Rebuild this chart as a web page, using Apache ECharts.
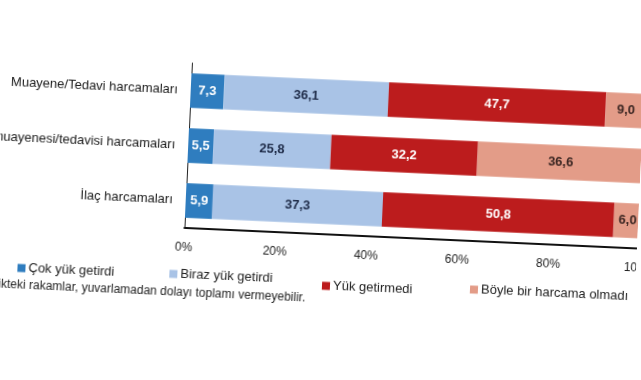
<!DOCTYPE html>
<html>
<head>
<meta charset="utf-8">
<script src="https://cdn.jsdelivr.net/npm/echarts@6/dist/echarts.min.js"></script>
<style>
html,body{margin:0;padding:0;background:#fff;overflow:hidden;}
#chart{width:641px;height:380px;transform:rotate(2.6deg);transform-origin:188px 150px;}
</style>
</head>
<body>
<div id="chart"></div>
<script>
const categories = ['İlaç harcamaları', 'Diş muayenesi/tedavisi harcamaları', 'Muayene/Tedavi harcamaları'];
const seriesNames = ['Çok yük getirdi', 'Biraz yük getirdi', 'Yük getirmedi', 'Böyle bir harcama olmadı'];
const cokYuk = [5.9, 5.5, 7.3];
const birazYuk = [37.3, 25.8, 36.1];
const yukGetirmedi = [50.8, 32.2, 47.7];
const boyleBir = [6.0, 36.6, 9.0];
const xTicks = ['0%', '20%', '40%', '60%', '80%', '100%'];
const footnote = 'Grafikteki rakamlar, yuvarlamadan dolayı toplamı vermeyebilir.';

const colors = ['#2f7dbf', '#a9c3e6', '#bc1c1d', '#e39c88'];
const labelColors = ['#ffffff', '#1e2b48', '#ffffff', '#3b2622'];
const font = '"Liberation Sans", Arial, sans-serif';
const values = [cokYuk, birazYuk, yukGetirmedi, boyleBir];
const fmt = v => v.toFixed(1).replace('.', ',');

const legendPos = [[18, 264], [170, 263], [323, 268], [471, 265]];

const chart = echarts.init(document.getElementById('chart'), null, {renderer: 'canvas'});
chart.setOption({
  backgroundColor: '#ffffff',
  animation: false,
  grid: {left: 188, right: -3, top: 63, bottom: 152, containLabel: false, outerBoundsMode: 'none'},
  xAxis: {
    type: 'value', min: 0, max: 100, interval: 20,
    axisLine: {show: true, lineStyle: {color: '#111', width: 2}},
    axisTick: {show: false},
    splitLine: {show: false},
    axisLabel: {
      formatter: v => xTicks[v / 20], color: '#222', fontSize: 12, fontFamily: font, margin: 14,
      hideOverlap: false
    }
  },
  yAxis: {
    type: 'category', data: categories,
    axisLine: {show: true, lineStyle: {color: '#222', width: 1}},
    axisTick: {show: false},
    axisLabel: {color: '#1a1a1a', fontSize: 13, fontFamily: font, margin: 13}
  },
  legend: seriesNames.map((n, i) => ({
    data: [n], left: legendPos[i][0], top: legendPos[i][1],
    icon: 'rect', itemWidth: 8, itemHeight: 8, itemGap: 4,
    textStyle: {fontSize: 13, fontFamily: font, color: '#222', padding: [0, 0, 0, -2]},
    selectedMode: false
  })),
  graphic: [{
    type: 'text', right: 641 - 312, top: 287,
    style: {text: footnote, fontSize: 12, fontFamily: font, fill: '#222', textAlign: 'right'}
  }],
  series: seriesNames.map((n, i) => ({
    name: n, type: 'bar', stack: 'total', barWidth: '63%',
    data: values[i],
    itemStyle: {color: colors[i]},
    label: {
      show: true, position: 'inside', formatter: p => fmt(p.value),
      color: labelColors[i], fontSize: 13, fontWeight: 'bold', fontFamily: font
    }
  }))
});
</script>
</body>
</html>
